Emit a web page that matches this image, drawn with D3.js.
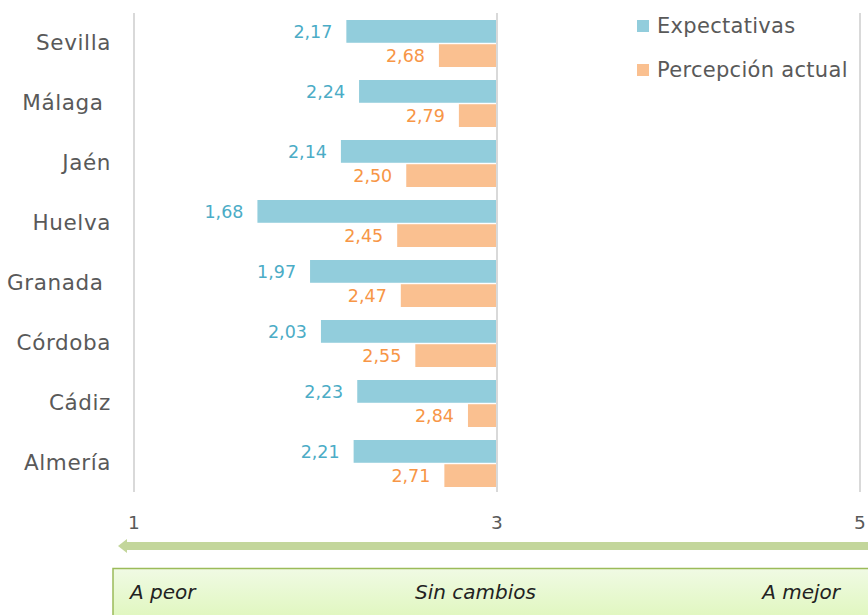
<!DOCTYPE html>
<html><head><meta charset="utf-8">
<script src="https://cdn.jsdelivr.net/npm/d3@7"></script>
<style>body{margin:0;background:#fff;overflow:hidden}svg{display:block}</style>
</head><body>
<script>
const categories = ["Sevilla", "Málaga ", "Jaén", "Huelva", "Granada ", "Córdoba", "Cádiz", "Almería"];
const expectativas = [2.17, 2.24, 2.14, 1.68, 1.97, 2.03, 2.23, 2.21];
const percepcion = [2.68, 2.79, 2.50, 2.45, 2.47, 2.55, 2.84, 2.71];
const seriesNames = ["Expectativas", "Percepción actual"];
const tickValues = [1, 3, 5];
const scaleLabels = ["A peor", "Sin cambios", "A mejor"];

const W = 868, H = 615;
const font = "'DejaVu Sans', Inter, sans-serif";
const blue = "#92CDDC", orange = "#FAC090";
const blueText = "#4BACC6", orangeText = "#F79646";
const gray = "#595959";

const svg = d3.select("body").append("svg").attr("width", W).attr("height", H);

const x = d3.scaleLinear().domain([1, 5]).range([134, 860]);
const y = d3.scaleBand().domain(categories).range([13, 493]).paddingInner(0).paddingOuter(0);
const sub = d3.scaleBand().domain([0, 1]).range([7, 54]).paddingInner(0.06);

// gridlines
svg.append("g").selectAll("line").data(tickValues).join("line")
  .attr("x1", d => x(d)).attr("x2", d => x(d))
  .attr("y1", 13).attr("y2", 492)
  .attr("stroke", "#D9D9D9").attr("stroke-width", 2);

// tick labels
svg.append("g").selectAll("text").data(tickValues).join("text")
  .attr("x", d => x(d)).attr("y", 529)
  .attr("text-anchor", "middle")
  .attr("font-family", font).attr("font-size", 18.5).attr("fill", gray)
  .text(d => d);

// category labels
svg.append("g").selectAll("text").data(categories).join("text")
  .attr("x", 111).attr("y", d => y(d) + y.bandwidth() / 2 + 7)
  .attr("text-anchor", "end")
  .style("white-space", "pre")
  .attr("letter-spacing", 0.6)
  .attr("font-family", font).attr("font-size", 21.5).attr("fill", gray)
  .text(d => d);

const series = [
  {vals: expectativas, fill: blue, tc: blueText, i: 0},
  {vals: percepcion, fill: orange, tc: orangeText, i: 1}
];
const fmt = v => d3.format(".2f")(v).replace(".", ",");

series.forEach(s => {
  const g = svg.append("g");
  g.selectAll("rect").data(categories).join("rect")
    .attr("x", (c, j) => x(s.vals[j]))
    .attr("width", (c, j) => x(3) - x(s.vals[j]))
    .attr("y", c => y(c) + sub(s.i))
    .attr("height", sub.bandwidth())
    .attr("fill", s.fill);
  g.selectAll("text").data(categories).join("text")
    .attr("x", (c, j) => x(s.vals[j]) - 14)
    .attr("y", c => y(c) + sub(s.i) + sub.bandwidth() / 2 + 6.5)
    .attr("text-anchor", "end")
    .attr("font-family", font).attr("font-size", 17.5).attr("fill", s.tc)
    .text((c, j) => fmt(s.vals[j]));
});

// redraw center gridline on top of bars
svg.append("line").attr("x1", x(3)).attr("x2", x(3)).attr("y1", 13).attr("y2", 492)
  .attr("stroke", "#D9D9D9").attr("stroke-width", 2);

// legend
const leg = svg.append("g");
seriesNames.forEach((n, i) => {
  leg.append("rect").attr("x", 637).attr("y", 20 + i * 44).attr("width", 12).attr("height", 12)
    .attr("fill", i === 0 ? blue : orange);
  leg.append("text").attr("x", 657).attr("y", 33 + i * 44)
    .attr("letter-spacing", 0.3)
    .attr("font-family", font).attr("font-size", 21).attr("fill", gray).text(n);
});

// arrow
const ay = 546;
svg.append("path")
  .attr("d", `M${118},${ay} L${127},${ay - 7} L${127},${ay + 7} Z`)
  .attr("fill", "#C3D69B");
svg.append("rect").attr("x", 124).attr("y", ay - 4).attr("width", W).attr("height", 8).attr("fill", "#C3D69B");

// scale box
const defs = svg.append("defs");
const grad = defs.append("linearGradient").attr("id", "gb").attr("x1", 0).attr("x2", 0).attr("y1", 0).attr("y2", 1);
grad.append("stop").attr("offset", "0%").attr("stop-color", "#F0FAE4");
grad.append("stop").attr("offset", "100%").attr("stop-color", "#D6F5A8");
svg.append("rect").attr("x", 113).attr("y", 568.5).attr("width", W).attr("height", 80)
  .attr("fill", "url(#gb)").attr("stroke", "#9BBB59").attr("stroke-width", 1.5);

const lx = [130, 415, 840];
const anchors = ["start", "start", "end"];
svg.append("g").selectAll("text").data(scaleLabels).join("text")
  .attr("x", (d, i) => lx[i]).attr("y", 599)
  .attr("text-anchor", (d, i) => anchors[i])
  .attr("font-family", font).attr("font-size", 20).attr("font-style", "italic").attr("fill", "#222")
  .text(d => d);
</script>
</body></html>
